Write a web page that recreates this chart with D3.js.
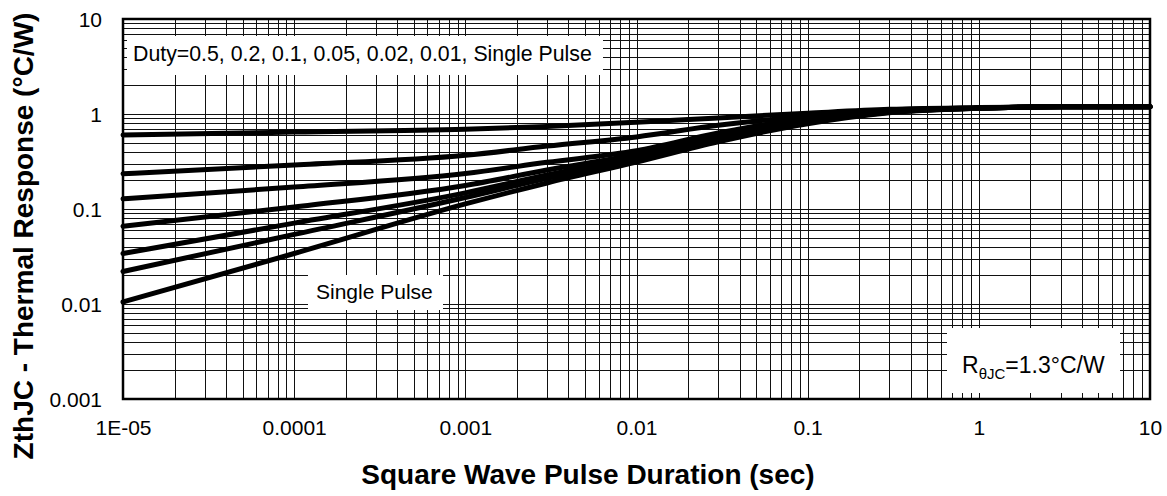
<!DOCTYPE html>
<html>
<head>
<meta charset="utf-8">
<script src="https://cdn.jsdelivr.net/npm/d3@7/dist/d3.min.js"></script>
<style>
  html, body { margin: 0; padding: 0; background: #fff; }
  svg { display: block; font-family: "Liberation Sans", Arial, sans-serif; }
</style>
</head>
<body>
<svg id="chart" width="1167" height="496"></svg>
<script>
// ---- data ----
const times   = [1e-5, 1e-4, 1e-3, 3e-3, 1e-2, 3e-2, 1e-1, 3e-1, 1, 3, 10];
const duty05  = [0.60, 0.645, 0.69, 0.74, 0.82, 0.91, 1.02, 1.12, 1.17, 1.19, 1.19];
const duty02  = [0.235, 0.29, 0.367, 0.46, 0.574, 0.76, 0.95, 1.10, 1.16, 1.19, 1.19];
const duty01  = [0.128, 0.17, 0.236, 0.31, 0.41, 0.63, 0.90, 1.08, 1.16, 1.19, 1.19];
const duty005 = [0.066, 0.105, 0.177, 0.257, 0.374, 0.58, 0.86, 1.06, 1.15, 1.19, 1.19];
const duty002 = [0.034, 0.071, 0.148, 0.228, 0.347, 0.55, 0.83, 1.05, 1.15, 1.19, 1.19];
const duty001 = [0.022, 0.054, 0.132, 0.21, 0.33, 0.53, 0.81, 1.04, 1.15, 1.19, 1.19];
const single  = [0.0105, 0.034, 0.113, 0.188, 0.312, 0.51, 0.79, 1.03, 1.15, 1.19, 1.19];
const seriesList = [duty05, duty02, duty01, duty005, duty002, duty001, single];

const xTickValues = [1e-5, 1e-4, 1e-3, 1e-2, 1e-1, 1, 10];
const xTickLabels = ["1E-05", "0.0001", "0.001", "0.01", "0.1", "1", "10"];
const yTickValues = [0.001, 0.01, 0.1, 1, 10];
const yTickLabels = ["0.001", "0.01", "0.1", "1", "10"];

const xTitle = "Square Wave Pulse Duration (sec)";
const yTitle = "ZthJC - Thermal Response (°C/W)";
const dutyNote = "Duty=0.5, 0.2, 0.1, 0.05, 0.02, 0.01, Single Pulse";
const singleNote = "Single Pulse";

// ---- layout ----
const L = 123, R = 1150, T = 19, B = 399;
const svg = d3.select("#chart");
const x = d3.scaleLog().domain([1e-5, 10]).range([L, R]);
const y = d3.scaleLog().domain([0.001, 10]).range([B, T]);

// minor+major grid values
function gridVals(lo, hi) {
  const out = [];
  for (let e = Math.round(Math.log10(lo)); e < Math.round(Math.log10(hi)); e++) {
    for (let k = 1; k <= 9; k++) out.push(k * Math.pow(10, e));
  }
  out.push(hi);
  return out;
}
const gx = gridVals(1e-5, 10), gy = gridVals(0.001, 10);

const grid = svg.append("g").attr("stroke", "#111").attr("stroke-width", 1).attr("shape-rendering", "crispEdges");
grid.selectAll("line.v").data(gx).join("line").attr("class", "v")
  .attr("x1", d => Math.round(x(d)) + 0.5).attr("x2", d => Math.round(x(d)) + 0.5)
  .attr("y1", T).attr("y2", B);
grid.selectAll("line.h").data(gy).join("line").attr("class", "h")
  .attr("y1", d => Math.round(y(d)) + 0.5).attr("y2", d => Math.round(y(d)) + 0.5)
  .attr("x1", L).attr("x2", R);

// annotation boxes (white background covering grid)
svg.append("rect").attr("x", 127).attr("y", 36).attr("width", 476).attr("height", 39).attr("fill", "#fff");
svg.append("rect").attr("x", 308).attr("y", 275).attr("width", 135).attr("height", 35).attr("fill", "#fff");
svg.append("rect").attr("x", 947).attr("y", 328).attr("width", 173).attr("height", 65).attr("fill", "#fff");

// curves
const line = d3.line()
  .x((d, i) => x(times[i]))
  .y(d => y(d))
  .curve(d3.curveMonotoneX);
svg.append("g").selectAll("path").data(seriesList).join("path")
  .attr("d", d => line(d))
  .attr("fill", "none").attr("stroke", "#000").attr("stroke-width", 5)
  .attr("stroke-linejoin", "round").attr("stroke-linecap", "round");

// frame
svg.append("rect").attr("x", L).attr("y", T).attr("width", R - L).attr("height", B - T)
  .attr("fill", "none").attr("stroke", "#000").attr("stroke-width", 2.5);

// axes via d3 axis generators (tick labels only)
const xAxis = d3.axisBottom(x).tickValues(xTickValues)
  .tickFormat((d, i) => xTickLabels[i]).tickSize(0).tickPadding(0);
const gxa = svg.append("g").attr("transform", `translate(0,${B})`).call(xAxis);
gxa.select(".domain").remove();
gxa.selectAll("text").attr("font-size", 21).attr("fill", "#000")
  .attr("font-family", "'Liberation Sans', Arial, sans-serif")
  .attr("dy", null).attr("y", 36);

const yAxis = d3.axisLeft(y).tickValues(yTickValues)
  .tickFormat((d, i) => yTickLabels[i]).tickSize(0).tickPadding(0);
const gya = svg.append("g").attr("transform", `translate(${L},0)`).call(yAxis);
gya.select(".domain").remove();
gya.selectAll("text").attr("font-size", 21).attr("fill", "#000")
  .attr("font-family", "'Liberation Sans', Arial, sans-serif")
  .attr("x", -21).attr("dy", "0.35em");

// titles
svg.append("text").attr("x", 588).attr("y", 484).attr("text-anchor", "middle")
  .attr("font-size", 28).attr("font-weight", "bold").text(xTitle);
svg.append("text").attr("transform", "translate(33,236) rotate(-90)").attr("text-anchor", "middle")
  .attr("font-size", 28).attr("font-weight", "bold").text(yTitle);

// annotations text
svg.append("text").attr("x", 133).attr("y", 61).attr("font-size", 21.3).text(dutyNote);
svg.append("text").attr("x", 316).attr("y", 299).attr("font-size", 21).text(singleNote);
const rt = svg.append("text").attr("x", 962).attr("y", 373).attr("font-size", 23);
rt.append("tspan").text("R");
rt.append("tspan").attr("font-size", 15).attr("dy", 6).text("θJC");
rt.append("tspan").attr("dy", -6).text("=1.3°C/W");
</script>
</body>
</html>
